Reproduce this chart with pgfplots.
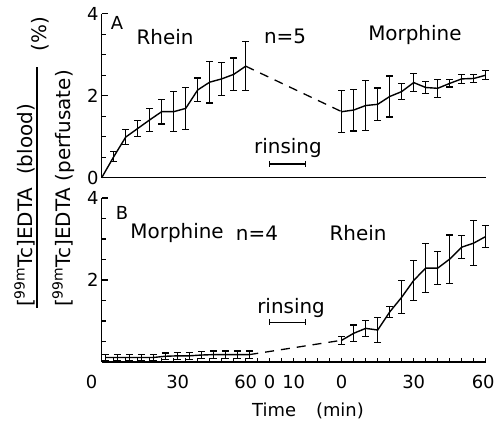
\documentclass[border=0pt]{standalone}
\usepackage{fontspec}
\setmainfont{DejaVu Sans}
\usepackage{pgfplots}
\pgfplotsset{compat=1.18}
\usepackage{pgfplotstable}

\pgfplotstableread{
x y e
5 0.51 0.12
10 0.99 0.19
15 1.20 0.20
20 1.41 0.28
25 1.61 0.30
30 1.61 0.49
35 1.69 0.51
40 2.14 0.29
45 2.33 0.51
50 2.41 0.40
55 2.52 0.40
60 2.72 0.60
}\Aleft
\pgfplotstableread{
x y e
100 1.61 0.51
105 1.65 0.51
110 1.76 0.61
115 1.79 0.40
120 1.98 0.50
125 2.10 0.20
130 2.32 0.22
135 2.20 0.15
140 2.18 0.22
145 2.30 0.09
150 2.41 0.11
155 2.42 0.09
160 2.50 0.11
}\Aright
\pgfplotstableread{
x y e
1.5 0.11 0.07
6.5 0.11 0.07
11.5 0.11 0.07
16.5 0.11 0.07
21.5 0.11 0.07
26.5 0.14 0.08
31.5 0.15 0.08
36.5 0.15 0.08
41.5 0.17 0.09
46.5 0.18 0.09
51.5 0.18 0.09
56.5 0.18 0.09
61.5 0.18 0.09
}\Bleft
\pgfplotstableread{
x y e
100 0.53 0.10
105 0.70 0.20
110 0.82 0.19
115 0.78 0.30
120 1.22 0.14
125 1.58 0.40
130 1.99 0.49
135 2.29 0.60
140 2.29 0.40
145 2.51 0.59
150 2.80 0.28
155 2.90 0.55
160 3.06 0.27
}\Bright

\newcommand\lbl{\fontsize{20}{24}\selectfont}
\newcommand\tck{\fontsize{18}{21}\selectfont}

\pgfplotsset{
  panel/.style={
    scale only axis, width=384bp, height=164bp,
    xmin=0, xmax=160, ymin=0, ymax=4,
    axis x line*=bottom, axis y line*=left,
    axis line style={-, line width=1.3bp, black},
    tick align=inside,
    minor xtick={0,5,...,160},
    minor ytick={0.5,1,...,3.5},
    major tick length=6bp, minor tick length=4bp,
    tick style={line width=1.1bp, black},
    major x tick style={draw=none},
    clip=false,
    /pgf/number format/assume math mode=true,
    tick label style={font=\tck},
    yticklabel style={inner sep=3bp},
    xticklabel style={yshift=-10bp},
  },
  dat/.style={black, line width=1.4bp, mark=none,
    error bars/.cd, y dir=both, y explicit,
    error mark=-,
    error bar style={line width=1.2bp, solid},
    error mark options={rotate=90, line width=1.2bp, mark size=3.5bp, solid, black}},
  dsh/.style={black, line width=1.3bp, mark=none, dash pattern=on 9bp off 7bp},
  rns/.style={black, line width=1.1bp, mark=|, mark size=3bp, mark options={solid}},
}

\begin{document}
\begin{tikzpicture}
\useasboundingbox (0,0) rectangle (496bp,424bp);

% y label
\draw[line width=1.1bp] (37bp,116bp) -- (37bp,357bp);
\node[rotate=90, anchor=base west, inner sep=0pt, font=\lbl] at (32bp,117bp)
  {[\textsuperscript{99m}Tc]EDTA\ \ (blood)};
\node[rotate=90, anchor=base west, inner sep=0pt, font=\lbl] at (70bp,117bp)
  {[\textsuperscript{99m}Tc]EDTA (perfusate)};
\node[rotate=90, inner sep=0pt, font=\lbl] at (40bp,390bp) {(\%)};

% Panel A
\begin{axis}[panel, at={(101.7bp,246.3bp)}, anchor=south west,
  xtick=\empty, ytick={0,2,4}]
  \addplot[black, line width=1.4bp, mark=none] coordinates {(0,0) (5,0.51)};
  \addplot[dat] table[x=x, y=y, y error=e] {\Aleft};
  \addplot[dat] table[x=x, y=y, y error=e] {\Aright};
  \addplot[dsh] coordinates {(60,2.72) (100,1.61)};
  \addplot[rns] coordinates {(70,0.335) (85,0.335)};
  \node[font=\tck] at (axis cs:6.4,3.78) {A};
  \node[font=\lbl] at (axis cs:26.4,3.44) {Rhein};
  \node[font=\lbl] at (axis cs:76.4,3.44) {n=5};
  \node[font=\lbl] at (axis cs:130.5,3.49) {Morphine};
  \node[font=\lbl] at (axis cs:77.6,0.73) {rinsing};
\end{axis}

% Panel B
\begin{axis}[panel, at={(101.7bp,62bp)}, anchor=south west,
  ytick={2,4},
  xtick={0,30,60,70,80,100,130,160},
  xticklabels={\makebox[0pt]{0\hspace{20bp}}, \makebox[0pt]{\hspace{8bp}30}, 60, 0, 10, 0, 30, \makebox[0pt]{60\hspace{5bp}}}]
  \addplot[dat] table[x=x, y=y, y error=e] {\Bleft};
  \addplot[dat] table[x=x, y=y, y error=e] {\Bright};
  \addplot[dsh] coordinates {(61.5,0.18) (100,0.53)};
  \addplot[rns] coordinates {(70,0.97) (85,0.97)};
  \node[font=\tck] at (axis cs:8.5,3.64) {B};
  \node[font=\lbl] at (axis cs:31.4,3.15) {Morphine};
  \node[font=\lbl] at (axis cs:64.7,3.15) {n=4};
  \node[font=\lbl] at (axis cs:106.8,3.15) {Rhein};
  \node[font=\lbl] at (axis cs:78.9,1.31) {rinsing};
\end{axis}

\node[font=\tck] at (308bp,13bp) {Time\hspace{20bp}(min)};
\end{tikzpicture}
\end{document}
